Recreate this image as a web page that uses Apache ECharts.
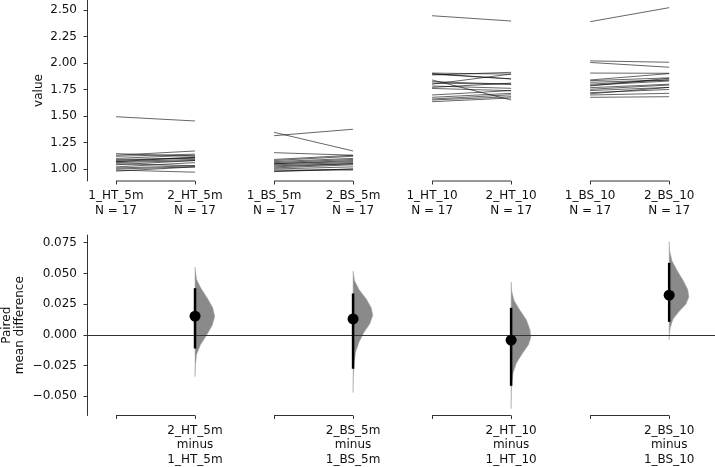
<!DOCTYPE html>
<html>
<head>
<meta charset="utf-8">
<script src="https://cdn.jsdelivr.net/npm/echarts@6/dist/echarts.min.js"></script>
<style>html,body{margin:0;padding:0;background:#fff}#c{width:715px;height:467px}</style>
</head>
<body>
<div id="c"></div>
<script>
const categories = ['1_HT_5m','2_HT_5m','1_BS_5m','2_BS_5m','1_HT_10','2_HT_10','1_BS_10','2_BS_10'];
const sampleSizes = [17,17,17,17,17,17,17,17];

const ht5Before = [1.493,1.145,1.13,1.12,1.10,1.09,1.08,1.07,1.07,1.06,1.05,1.04,1.02,1.01,1.00,0.99,0.98];
const ht5After  = [1.453,1.12,1.17,1.14,1.13,1.10,1.11,1.11,1.09,1.08,1.03,1.08,1.06,1.03,1.02,0.97,1.02];
const bs5Before = [1.346,1.314,1.154,1.09,1.08,1.07,1.06,1.05,1.05,1.04,1.03,1.02,1.01,1.00,0.99,0.98,0.975];
const bs5After  = [1.17,1.375,1.13,1.13,1.12,1.10,1.09,1.08,1.07,1.06,1.05,1.05,1.04,1.02,0.99,1.00,1.00];
const ht10Before = [2.446,1.905,1.90,1.895,1.887,1.84,1.824,1.81,1.80,1.783,1.77,1.76,1.698,1.676,1.66,1.651,1.635];
const ht10After  = [2.396,1.895,1.85,1.85,1.912,1.651,1.80,1.80,1.896,1.761,1.81,1.739,1.74,1.714,1.70,1.682,1.67];
const bs10Before = [2.39,2.02,2.005,1.905,1.84,1.833,1.818,1.80,1.79,1.783,1.767,1.752,1.74,1.72,1.71,1.698,1.676];
const bs10After  = [2.522,2.007,1.96,1.903,1.90,1.86,1.84,1.84,1.83,1.856,1.80,1.792,1.77,1.75,1.77,1.714,1.682];

const meanDiffs = [0.0152, 0.0130, -0.0043, 0.0323];
const ciLower   = [-0.0111, -0.0276, -0.0415, 0.0106];
const ciUpper   = [0.0380, 0.0337, 0.0220, 0.0586];

// bootstrap density outlines: [difference value, relative density]
const ht5Boot  = [[0.055,0],[0.045,0.08],[0.038,0.3],[0.030,0.62],[0.022,0.9],[0.015,1.0],[0.008,0.88],[0.0,0.6],[-0.008,0.28],[-0.016,0.08],[-0.025,0.02],[-0.034,0]];
const bs5Boot  = [[0.052,0],[0.044,0.08],[0.037,0.3],[0.029,0.68],[0.022,0.92],[0.016,1.0],[0.009,0.85],[0.002,0.55],[-0.006,0.3],[-0.014,0.13],[-0.024,0.05],[-0.035,0.015],[-0.047,0]];
const ht10Boot = [[0.043,0],[0.035,0.04],[0.028,0.15],[0.02,0.45],[0.012,0.78],[0.004,0.96],[-0.002,1.0],[-0.008,0.88],[-0.015,0.58],[-0.023,0.27],[-0.031,0.1],[-0.040,0.03],[-0.050,0.01],[-0.060,0]];
const bs10Boot = [[0.076,0],[0.068,0.03],[0.060,0.15],[0.052,0.42],[0.044,0.72],[0.037,0.94],[0.031,1.0],[0.025,0.85],[0.019,0.5],[0.013,0.2],[0.006,0.06],[0.0,0.01],[-0.004,0]];

const valueTicks = [1.00,1.25,1.50,1.75,2.00,2.25,2.50];
const diffTicks = [-0.050,-0.025,0.000,0.025,0.050,0.075];

const befores = [ht5Before, bs5Before, ht10Before, bs10Before];
const afters = [ht5After, bs5After, ht10After, bs10After];
const boots = [ht5Boot, bs5Boot, ht10Boot, bs10Boot];

const FONT = 'DejaVu Sans';
const TXT = '#111';
const AX = '#333';
const catIdx = categories.map((c, i) => i);
const testIdx = catIdx.filter(i => i % 2 === 1);

const pairRows = [];
befores.forEach((b, g) => b.forEach((v, k) => pairRows.push([g, v, afters[g][k]])));

function minusFmt(v, d) {
  const s = Math.abs(v).toFixed(d);
  return v < -1e-12 ? '\u2212' + s : s;
}

function bracketSeries(xi, yi) {
  return {
    type: 'custom', xAxisIndex: xi, yAxisIndex: yi, silent: true,
    data: [0,1,2,3].map(g => [g]),
    renderItem: (params, api) => {
      const g = api.value(0);
      const cs = params.coordSys;
      const yb = cs.y + cs.height;
      const a = api.coord([2*g, 0])[0];
      const b = api.coord([2*g+1, 0])[0];
      return {type: 'line', shape: {x1: a, y1: yb, x2: b, y2: yb}, style: {stroke: AX, lineWidth: 1}};
    }
  };
}

const chart = echarts.init(document.getElementById('c'), null, {renderer: 'canvas'});
chart.setOption({
  animation: false,
  textStyle: {fontFamily: FONT},
  grid: [
    {left: 87, right: 0, top: 0, height: 181, outerBoundsMode: 'none', containLabel: false},
    {left: 87, right: 0, top: 235, height: 180.5, outerBoundsMode: 'none', containLabel: false}
  ],
  xAxis: [
    {
      type: 'value', gridIndex: 0, min: -0.367, max: 7.58,
      axisLine: {show: false, onZero: false}, splitLine: {show: false},
      axisTick: {show: true, length: 3.5, customValues: catIdx, lineStyle: {color: AX, width: 1}},
      axisLabel: {
        customValues: catIdx, margin: 8, fontSize: 12, color: TXT, fontFamily: FONT, lineHeight: 14.5,
        formatter: v => categories[Math.round(v)] + '\nN = ' + sampleSizes[Math.round(v)]
      }
    },
    {
      type: 'value', gridIndex: 1, min: -0.367, max: 7.58,
      axisLine: {show: false, onZero: false}, splitLine: {show: false},
      axisTick: {show: true, length: 3.5, customValues: catIdx, lineStyle: {color: AX, width: 1}},
      axisLabel: {
        customValues: testIdx, margin: 8, fontSize: 12, color: TXT, fontFamily: FONT, lineHeight: 14.5,
        formatter: v => { const i = Math.round(v); return categories[i] + '\nminus\n' + categories[i-1]; }
      }
    }
  ],
  yAxis: [
    {
      type: 'value', gridIndex: 0, min: 0.8868, max: 2.5943,
      name: 'value', nameLocation: 'middle', nameGap: 42, nameMoveOverlap: false,
      nameTextStyle: {fontSize: 12, color: TXT, fontFamily: FONT},
      axisLine: {show: true, onZero: false, lineStyle: {color: AX, width: 1}},
      splitLine: {show: false},
      axisTick: {show: true, length: 3.5, customValues: valueTicks, lineStyle: {color: AX}},
      axisLabel: {customValues: valueTicks, margin: 10, fontSize: 12, color: TXT, fontFamily: FONT, formatter: v => minusFmt(v, 2)}
    },
    {
      type: 'value', gridIndex: 1, min: -0.06563, max: 0.08127,
      name: 'Paired\nmean difference', nameLocation: 'middle', nameGap: 60, nameMoveOverlap: false,
      nameTextStyle: {fontSize: 12, color: TXT, fontFamily: FONT, lineHeight: 13.5},
      axisLine: {show: true, onZero: false, lineStyle: {color: AX, width: 1}},
      splitLine: {show: false},
      axisTick: {show: true, length: 3.5, customValues: diffTicks, lineStyle: {color: AX}},
      axisLabel: {customValues: diffTicks, margin: 10, fontSize: 12, color: TXT, fontFamily: FONT, formatter: v => minusFmt(v, 3)}
    }
  ],
  series: [
    {
      type: 'custom', xAxisIndex: 0, yAxisIndex: 0, silent: true,
      data: pairRows,
      renderItem: (params, api) => {
        const g = api.value(0);
        const p1 = api.coord([2*g, api.value(1)]);
        const p2 = api.coord([2*g+1, api.value(2)]);
        return {type: 'line', shape: {x1: p1[0], y1: p1[1], x2: p2[0], y2: p2[1]},
                style: {stroke: 'rgba(0,0,0,0.6)', lineWidth: 1}};
      }
    },
    bracketSeries(0, 0),
    bracketSeries(1, 1),
    {
      type: 'custom', xAxisIndex: 1, yAxisIndex: 1, silent: true, z: 2,
      data: [0,1,2,3].map(g => [g]),
      renderItem: (params, api) => {
        const g = api.value(0);
        const pts = boots[g];
        const maxW = 0.25 * api.size([1, 0])[0];
        const cx = api.coord([2*g+1, 0])[0];
        const poly = [[cx, api.coord([2*g+1, pts[0][0]])[1]]];
        pts.forEach(([v, d]) => poly.push([cx + d * maxW, api.coord([2*g+1, v])[1]]));
        poly.push([cx, api.coord([2*g+1, pts[pts.length-1][0]])[1]]);
        return {type: 'polygon', shape: {points: poly}, style: {fill: '#8a8a8a', stroke: '#a8a8a8', lineWidth: 0.5}};
      }
    },
    {
      type: 'custom', xAxisIndex: 1, yAxisIndex: 1, silent: true, z: 4,
      data: [0,1,2,3].map(g => [g, ciLower[g], ciUpper[g]]),
      renderItem: (params, api) => {
        const g = api.value(0);
        const a = api.coord([2*g+1, api.value(1)]);
        const b = api.coord([2*g+1, api.value(2)]);
        return {type: 'line', shape: {x1: a[0], y1: a[1], x2: b[0], y2: b[1]}, style: {stroke: '#000', lineWidth: 2.5}};
      }
    },
    {
      type: 'scatter', xAxisIndex: 1, yAxisIndex: 1, silent: true, z: 5,
      symbol: 'circle', symbolSize: 11,
      itemStyle: {color: '#000', opacity: 1},
      data: meanDiffs.map((m, g) => [2*g+1, m]),
      markLine: {
        silent: true, symbol: ['none', 'none'], z: 3,
        label: {show: false},
        lineStyle: {color: '#333', width: 1, type: 'solid', opacity: 1},
        data: [{yAxis: 0}]
      }
    }
  ]
});
</script>
</body>
</html>
